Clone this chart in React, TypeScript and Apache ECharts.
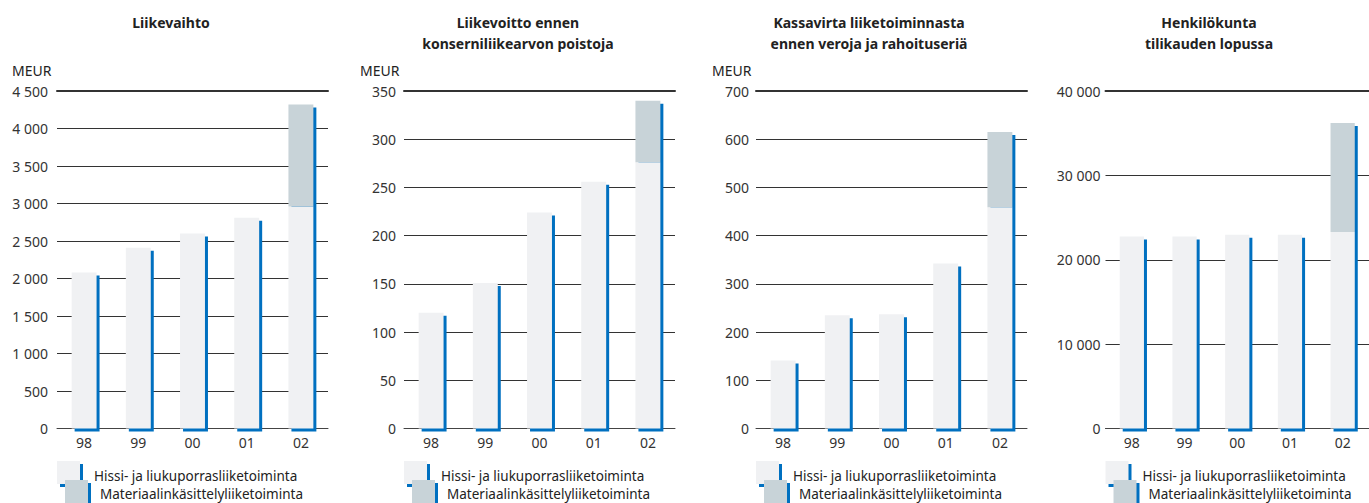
import React, { useEffect, useRef } from "react";
import * as echarts from "echarts";

const years = ["98", "99", "00", "01", "02"];

const salesHissi = [2080, 2410, 2600, 2810, 2960];
const salesMat = [0, 0, 0, 0, 1360];
const ebitaHissi = [120, 151, 224, 256, 276];
const ebitaMat = [0, 0, 0, 0, 64];
const cashHissi = [141, 235, 237, 342, 459];
const cashMat = [0, 0, 0, 0, 156];
const staffHissi = [22750, 22750, 22950, 22950, 23300];
const staffMat = [0, 0, 0, 0, 12920];

const axisMax = [4500, 350, 700, 40000];
const axisInterval = [500, 50, 100, 10000];

const titles = [
  ["Liikevaihto"],
  ["Liikevoitto ennen", "konserniliikearvon poistoja"],
  ["Kassavirta liiketoiminnasta", "ennen veroja ja rahoituseriä"],
  ["Henkilökunta", "tilikauden lopussa"],
];
const unitLabels = ["MEUR", "MEUR", "MEUR", ""];
const legendNames = ["Hissi- ja liukuporrasliiketoiminta", "Materiaalinkäsittelyliiketoiminta"];

const FONT = '"Noto Sans", "Open Sans", sans-serif';
const BLUE = "#0070c0";
const LIGHT = "#f0f1f3";
const DARK = "#c8d3d8";
const TEXT = "#222";

const gridLefts = [57, 404, 756, 1105.5];
const titleCenters = [171, 518, 869, 1209];
const unitX = [12, 360, 712, 0];
const labelMargins = [9, 8, 7, 5];

function fmt(v: number) {
  return String(v).replace(/\B(?=(\d{3})+(?!\d))/g, " ");
}

export default function App() {
  const ref = useRef<HTMLDivElement>(null);
  useEffect(() => {
    document.body.style.margin = "0";
    if (!ref.current) return;
    const chart = echarts.init(ref.current, undefined, { renderer: "svg" });
    const panels = [
      [salesHissi, salesMat],
      [ebitaHissi, ebitaMat],
      [cashHissi, cashMat],
      [staffHissi, staffMat],
    ];

    const grids = gridLefts.map((l) => ({ left: l, width: 271, top: 91, height: 337.5 }));
    const bottomAxes = gridLefts.map((_, g) => ({
      type: "category",
      gridIndex: g,
      data: years,
      axisTick: { show: false },
      axisLine: { show: true, lineStyle: { color: "#444", width: 1 } },
      axisLabel: { color: "#333", fontSize: 14, fontFamily: FONT, margin: 7 },
    }));
    const topAxes = gridLefts.map((_, g) => ({
      type: "category",
      gridIndex: g,
      position: "top",
      data: years,
      axisTick: { show: false },
      axisLabel: { show: false },
      axisLine: { show: true, lineStyle: { color: "#333", width: 2 } },
    }));
    const yAxes = gridLefts.map((_, g) => ({
      type: "value",
      gridIndex: g,
      min: 0,
      max: axisMax[g],
      interval: axisInterval[g],
      axisLine: { show: false },
      axisTick: { show: false },
      splitLine: { show: true, lineStyle: { color: "#333", width: 1 } },
      axisLabel: {
        color: "#333",
        fontSize: 14,
        fontFamily: FONT,
        margin: labelMargins[g],
        formatter: (v: number) => fmt(v),
      },
    }));

    const series = panels.map(([h, m], g) => ({
      type: "custom",
      xAxisIndex: g,
      yAxisIndex: g,
      clip: false,
      encode: { x: 0, y: [1, 2] },
      data: years.map((_, i) => [i, h[i], m[i]]),
      renderItem: (params: any, api: any) => {
        const i = api.value(0);
        const hv = api.value(1);
        const mv = api.value(2);
        const p0 = api.coord([i, 0]);
        const p1 = api.coord([i, hv]);
        const p2 = api.coord([i, hv + mv]);
        const bw = api.size([1, 0])[0] * 0.46;
        const x = p0[0] - bw / 2;
        const children: any[] = [
          {
            type: "rect",
            shape: { x: x + 3, y: p2[1] + 3, width: bw, height: p0[1] - p2[1] },
            style: { fill: BLUE },
          },
          {
            type: "rect",
            shape: { x, y: p1[1], width: bw, height: p0[1] - p1[1] },
            style: { fill: LIGHT },
          },
        ];
        if (mv > 0) {
          children.push({
            type: "rect",
            shape: { x, y: p2[1], width: bw, height: p1[1] - p2[1] },
            style: { fill: DARK },
          });
        }
        return { type: "group", children };
      },
    }));

    const graphics: any[] = [];
    titles.forEach((lines, g) => {
      lines.forEach((t, k) => {
        graphics.push({
          type: "text",
          x: titleCenters[g],
          y: 22 + k * 21,
          style: {
            text: t,
            align: "center",
            verticalAlign: "middle",
            fontSize: 14,
            fontWeight: "bold",
            fontFamily: FONT,
            fill: TEXT,
          },
        });
      });
      if (unitLabels[g]) {
        graphics.push({
          type: "text",
          x: unitX[g],
          y: 70.5,
          style: {
            text: unitLabels[g],
            align: "left",
            verticalAlign: "middle",
            fontSize: 14,
            fontFamily: FONT,
            fill: TEXT,
          },
        });
      }
      const L = gridLefts[g];
      graphics.push({ type: "rect", shape: { x: L + 3, y: 464, width: 23, height: 23 }, style: { fill: BLUE } });
      graphics.push({ type: "rect", shape: { x: L, y: 461, width: 23, height: 23 }, style: { fill: LIGHT } });
      graphics.push({ type: "rect", shape: { x: L + 11, y: 483, width: 23, height: 23 }, style: { fill: BLUE } });
      graphics.push({ type: "rect", shape: { x: L + 8, y: 480, width: 23, height: 23 }, style: { fill: DARK } });
      graphics.push({
        type: "text",
        x: L + 37,
        y: 475.5,
        style: { text: legendNames[0], align: "left", verticalAlign: "middle", fontSize: 13.5, fontFamily: FONT, fill: TEXT },
      });
      graphics.push({
        type: "text",
        x: L + 43,
        y: 494,
        style: { text: legendNames[1], align: "left", verticalAlign: "middle", fontSize: 13.5, fontFamily: FONT, fill: TEXT },
      });
    });

    chart.setOption({
      animation: false,
      backgroundColor: "#fff",
      grid: grids,
      xAxis: [...bottomAxes, ...topAxes],
      yAxis: yAxes,
      series,
      graphic: graphics,
    } as any);
    return () => chart.dispose();
  }, []);
  return <div ref={ref} style={{ width: 1369, height: 503 }} />;
}
